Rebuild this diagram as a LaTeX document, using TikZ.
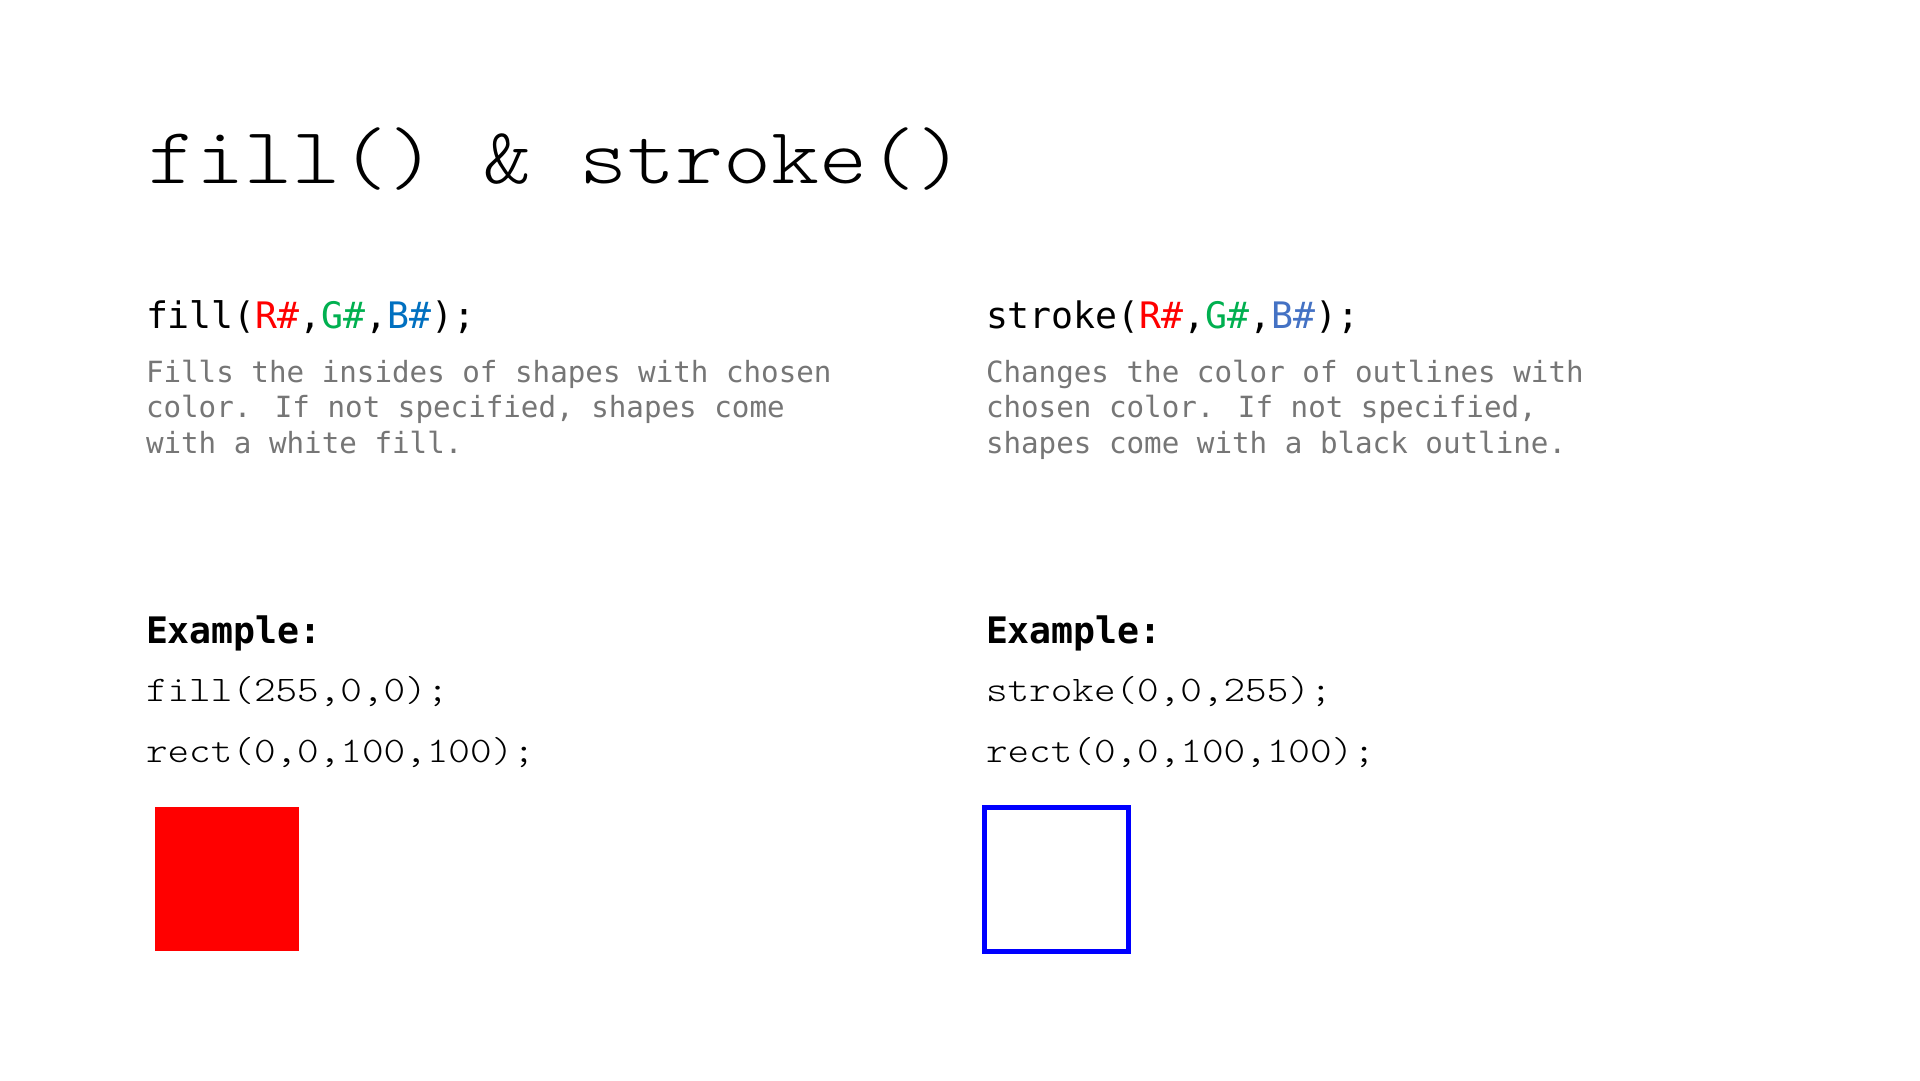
\documentclass[tikz,border=0pt]{standalone}
\usepackage{fontspec}
\newfontfamily\courfont{lmmonolt10-regular.otf}[FakeStretch=1.143]
\newfontfamily\consfont{DejaVu Sans Mono}
\definecolor{cR}{HTML}{FF0000}
\definecolor{cG}{HTML}{00B050}
\definecolor{cB}{HTML}{0070C0}
\definecolor{cB2}{HTML}{4472C4}
\definecolor{greytext}{HTML}{767676}
\definecolor{sqred}{RGB}{255,0,0}
\definecolor{sqblue}{RGB}{0,0,255}
\begin{document}
\begin{tikzpicture}[x=1pt,y=-1pt,
  txt/.style={anchor=base west, inner sep=0pt, outer sep=0pt},
  titlefont/.style={font=\courfont\fontsize{80}{96}\selectfont},
  headfont/.style={font=\consfont\fontsize{36.5}{44}\selectfont},
  descfont/.style={font=\consfont\fontsize{29.2}{35.5}\selectfont, text=greytext},
  exfont/.style={font=\consfont\bfseries\fontsize{36.5}{44}\selectfont},
  codefont/.style={font=\courfont\fontsize{36}{43}\selectfont}]
\fill[white] (0,0) rectangle (1920,1080);
\useasboundingbox (0,0) rectangle (1920,1080);

% title
\node[txt, titlefont] (title) at (148,183) {fill() \& stroke()};

% left column
\node[txt, headfont] (lhead) at (146,328) {fill(\textcolor{cR}{R\#},\textcolor{cG}{G\#},\textcolor{cB}{B\#});};
\node[txt, descfont] (ld1) at (146,382) {Fills the insides of shapes with chosen};
\node[txt, descfont] (ld2) at (146,417.5) {color. If not specified, shapes come};
\node[txt, descfont] (ld3) at (146,453) {with a white fill.};
\node[txt, exfont] (lex) at (146,643) {Example:};
\node[txt, codefont] (lc1) at (146,701) {fill(255,0,0);};
\node[txt, codefont] (lc2) at (146,762) {rect(0,0,100,100);};
\node[fill=sqred, draw=none, minimum size=144pt, inner sep=0pt, outer sep=0pt, anchor=north west] (redsq) at (155,807) {};

% right column
\node[txt, headfont] (rhead) at (986,328) {stroke(\textcolor{cR}{R\#},\textcolor{cG}{G\#},\textcolor{cB2}{B\#});};
\node[txt, descfont] (rd1) at (986,382) {Changes the color of outlines with};
\node[txt, descfont] (rd2) at (986,417.5) {chosen color. If not specified,};
\node[txt, descfont] (rd3) at (986,453) {shapes come with a black outline.};
\node[txt, exfont] (rex) at (986,643) {Example:};
\node[txt, codefont] (rc1) at (986,701) {stroke(0,0,255);};
\node[txt, codefont] (rc2) at (986,762) {rect(0,0,100,100);};
\node[draw=sqblue, line width=4.7pt, fill=white, minimum size=144pt, inner sep=0pt, outer sep=0pt, anchor=north west] (bluesq) at (984.4,807.4) {};
\end{tikzpicture}
\end{document}
